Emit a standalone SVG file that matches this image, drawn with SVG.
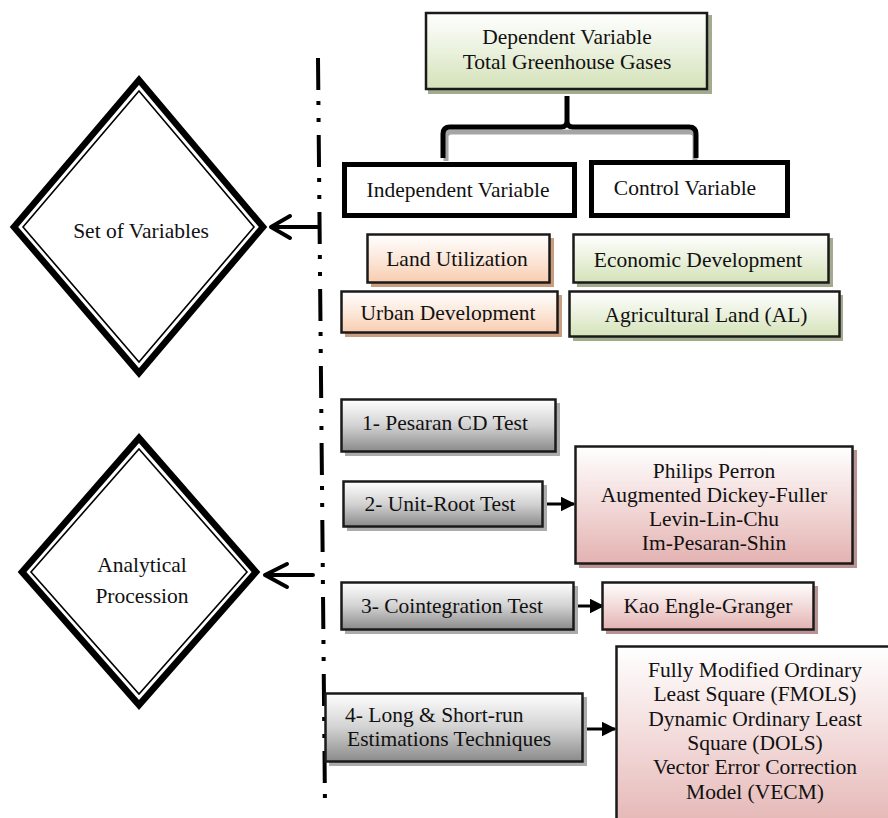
<svg xmlns="http://www.w3.org/2000/svg" width="888" height="818" viewBox="0 0 888 818">
<defs>
<linearGradient id="gGreen" x1="0" y1="0" x2="0" y2="1"><stop offset="0" stop-color="#ffffff"/><stop offset="0.6" stop-color="#e6eed6"/><stop offset="1" stop-color="#d4e2b8"/></linearGradient>
<linearGradient id="gOrange" x1="0" y1="0" x2="0" y2="1"><stop offset="0" stop-color="#ffffff"/><stop offset="0.6" stop-color="#fbe3d3"/><stop offset="1" stop-color="#f8ccae"/></linearGradient>
<linearGradient id="gGray" x1="0" y1="0" x2="0" y2="1"><stop offset="0" stop-color="#ffffff"/><stop offset="0.5" stop-color="#d2d2d2"/><stop offset="1" stop-color="#8a8a8a"/></linearGradient>
<linearGradient id="gPink" x1="0" y1="0" x2="0" y2="1"><stop offset="0" stop-color="#ffffff"/><stop offset="0.6" stop-color="#efd2d1"/><stop offset="1" stop-color="#e3b2b1"/></linearGradient>
<marker id="tri" markerWidth="5" markerHeight="5" refX="4.5" refY="2.5" orient="auto" markerUnits="strokeWidth"><path d="M0,0 L5,2.5 L0,5 Z" fill="#000"/></marker>
<clipPath id="clipUrban"><rect x="340" y="290" width="220" height="32"/></clipPath>
</defs>
<style>
text{font-family:'Liberation Serif','Times New Roman',serif;font-size:21.5px;fill:#111;}
.c{text-anchor:middle;}
.box{stroke:#1a1a1a;stroke-width:2.5;}
.thick{fill:#fff;stroke:#000;stroke-width:5;}
.shG{fill:#a3ab8f;}
.shO{fill:#c99d7f;}
.shY{fill:#ababab;}
.shP{fill:#b99392;}
.dia{fill:#fff;stroke:#000;stroke-width:6.5;stroke-linejoin:miter;}
.diaIn{fill:none;stroke:#000;stroke-width:1.6;}
.conn{fill:none;stroke:#000;stroke-width:4;}
.fa{fill:none;stroke:#000;stroke-width:3;marker-end:url(#tri);}
</style>
<g id="connectors">
<path d="M318,58 L325,807" fill="none" stroke="#000" stroke-width="4" stroke-dasharray="32 11 4 13 4 13"/>
<path d="M446,161 L446,137 Q446,132 451,132 L690,132 Q695,132 695,137 L695,161" fill="none" stroke="#a5a5a5" stroke-width="5"/>
<path d="M443,158 L443,134 Q443,127 450,127 L561,127 Q567,127 567,121 L567,96 M567,96 L567,121 Q567,127 573,127 L689,127 Q696,127 696,134 L696,158" fill="none" stroke="#000" stroke-width="5" stroke-linejoin="round"/>
<path class="conn" d="M318,227 L272,227 M290,216 L271,227 L290,238" stroke-linejoin="round" stroke-linecap="round"/>
<path class="conn" d="M313,575 L266,575 M287,564 L265,575 L287,587" stroke-linejoin="round" stroke-linecap="round"/>
<line class="fa" x1="543" y1="504" x2="574" y2="504"/>
<line class="fa" x1="574" y1="606" x2="603" y2="606"/>
<line class="fa" x1="583" y1="729" x2="615" y2="729"/>
</g>

<g id="dependent">
<rect class="shG" x="428" y="15" width="284" height="79"/>
<rect class="box" x="426" y="13" width="281" height="76" fill="url(#gGreen)"/>
<text class="c" x="567" y="44">Dependent Variable</text>
<text class="c" x="567" y="69">Total Greenhouse Gases</text>
</g>

<g id="independent">
<rect class="thick" x="344.5" y="164.5" width="230" height="51"/>
<text class="c" x="458" y="197">Independent Variable</text>
</g>

<g id="control">
<rect class="thick" x="591.5" y="162.5" width="196" height="53"/>
<text class="c" x="685" y="195">Control Variable</text>
</g>

<g id="land-utilization">
<rect class="shO" x="371" y="238" width="183" height="49"/>
<rect class="box" x="367.5" y="234.5" width="182" height="48" fill="url(#gOrange)"/>
<text class="c" x="457" y="266">Land Utilization</text>
</g>

<g id="urban-development">
<rect class="shO" x="345" y="295" width="217" height="42"/>
<rect class="box" x="341.5" y="291.5" width="216" height="41" fill="url(#gOrange)"/>
<text class="c" x="448" y="320" clip-path="url(#clipUrban)">Urban Development</text>
</g>

<g id="economic-development">
<rect class="shG" x="577" y="238" width="256" height="49"/>
<rect class="box" x="573.5" y="234.5" width="255" height="48" fill="url(#gGreen)"/>
<text class="c" x="698" y="267">Economic Development</text>
</g>

<g id="agricultural-land">
<rect class="shG" x="573" y="295" width="270" height="46"/>
<rect class="box" x="569.5" y="291.5" width="270" height="45" fill="url(#gGreen)"/>
<text class="c" x="706" y="322">Agricultural Land (AL)</text>
</g>

<g id="set-of-variables">
<polygon class="dia" points="139,80 263,227 139,373 14,227"/>
<polygon class="diaIn" points="139,91 254,227 139,362 23,227"/>
<text class="c" x="141" y="238">Set of Variables</text>
</g>

<g id="analytical-procession">
<polygon class="dia" points="139,438 256,572 139,705 22,572"/>
<polygon class="diaIn" points="139,449 247,572 139,694 31,572"/>
<text class="c" x="142" y="572">Analytical</text>
<text class="c" x="142" y="603">Procession</text>
</g>

<g id="pesaran">
<rect class="shY" x="345" y="403" width="215" height="53"/>
<rect class="box" x="341.5" y="399.5" width="214" height="52" fill="url(#gGray)"/>
<text class="c" x="445" y="430">1- Pesaran CD Test</text>
</g>

<g id="unit-root">
<rect class="shY" x="347" y="485" width="200" height="46"/>
<rect class="box" x="343.5" y="481.5" width="199" height="45" fill="url(#gGray)"/>
<text class="c" x="440" y="511">2- Unit-Root Test</text>
</g>

<g id="unit-root-tests">
<rect class="shP" x="579" y="450" width="278" height="118"/>
<rect class="box" x="575.5" y="446.5" width="277" height="117" fill="url(#gPink)"/>
<text class="c" x="714" y="478">Philips Perron</text>
<text class="c" x="714" y="502">Augmented Dickey-Fuller</text>
<text class="c" x="714" y="526">Levin-Lin-Chu</text>
<text class="c" x="714" y="550">Im-Pesaran-Shin</text>
</g>

<g id="cointegration">
<rect class="shY" x="345" y="586" width="233" height="48"/>
<rect class="box" x="341.5" y="582.5" width="232" height="47" fill="url(#gGray)"/>
<text class="c" x="452" y="613">3- Cointegration Test</text>
</g>

<g id="kao">
<rect class="shP" x="606" y="586" width="212" height="48"/>
<rect class="box" x="602.5" y="582.5" width="211" height="47" fill="url(#gPink)"/>
<text class="c" x="708" y="613">Kao Engle-Granger</text>
</g>

<g id="long-short-run">
<rect class="shY" x="329" y="697" width="258" height="69"/>
<rect class="box" x="325.5" y="693.5" width="257" height="68" fill="url(#gGray)"/>
<text x="345" y="722">4- Long &amp; Short-run</text>
<text x="347" y="746">Estimations Techniques</text>
</g>

<g id="estimation-methods">
<rect class="box" x="616.5" y="646.5" width="290" height="190" fill="url(#gPink)"/>
<text class="c" x="755" y="677">Fully Modified Ordinary</text>
<text class="c" x="755" y="701">Least Square (FMOLS)</text>
<text class="c" x="755" y="726">Dynamic Ordinary Least</text>
<text class="c" x="755" y="750">Square (DOLS)</text>
<text class="c" x="755" y="774">Vector Error Correction</text>
<text class="c" x="755" y="799">Model (VECM)</text>
</g>
</svg>
